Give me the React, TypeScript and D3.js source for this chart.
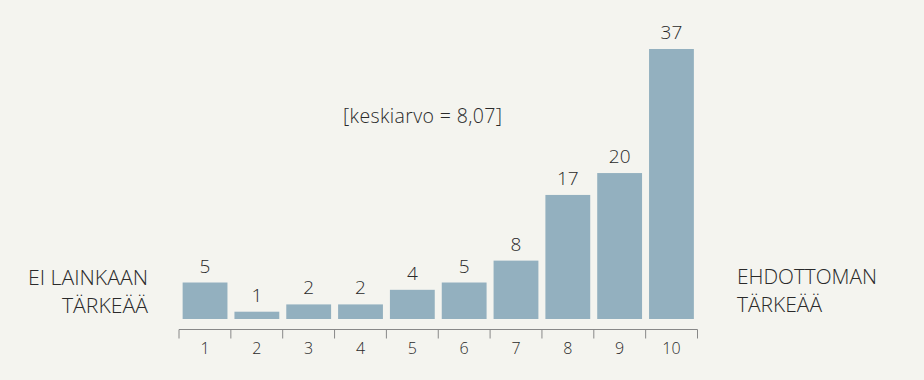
import React from "react";
import * as d3 from "d3";

const categories = ["1", "2", "3", "4", "5", "6", "7", "8", "9", "10"];
const values = [5, 1, 2, 2, 4, 5, 8, 17, 20, 37];
const meanLabel = "[keskiarvo = 8,07]";
const leftLabel = ["EI LAINKAAN", "TÄRKEÄÄ"];
const rightLabel = ["EHDOTTOMAN", "TÄRKEÄÄ"];

const W = 924;
const H = 380;
const FONT = "'Open Sans', 'Noto Sans', sans-serif";
const TEXT = "#2a2a2a";

export default function App() {
  const x = d3.scaleBand<string>().domain(categories).range([179, 697.5]).paddingInner(0.135).paddingOuter(0.07);
  const y = d3.scaleLinear().domain([0, 37]).range([319, 49]);
  const axisY = 329.5;
  const start = 179;
  const tickXs = d3.range(categories.length + 1).map((i) => start + i * ((697.5 - 179) / categories.length));

  return (
    <svg width={W} height={H} style={{ position: "absolute", left: 0, top: 0 }} fontFamily={FONT} fontWeight={300}>
      <rect x={0} y={0} width={W} height={H} fill="#f4f4ef" />
      {categories.map((c, i) => (
        <g key={c}>
          <rect x={x(c)} y={y(values[i])} width={x.bandwidth()} height={y(0) - y(values[i])} fill="#93b0bf" />
          <text x={(x(c) as number) + x.bandwidth() / 2} y={y(values[i]) - 10} textAnchor="middle" fontSize={19} fill={TEXT}>
            {values[i]}
          </text>
          <text x={(x(c) as number) + x.bandwidth() / 2} y={354} textAnchor="middle" fontSize={16} fill={TEXT}>
            {c}
          </text>
        </g>
      ))}
      <line x1={start} x2={697.5} y1={axisY} y2={axisY} stroke="#888" strokeWidth={1} />
      {tickXs.map((tx, i) => (
        <line key={i} x1={tx} x2={tx} y1={axisY} y2={axisY + 9} stroke="#888" strokeWidth={1} />
      ))}
      <text x={343} y={123} fontSize={19.5} fill={TEXT} textLength={159} lengthAdjust="spacing">{meanLabel}</text>
      <g fontSize={20.5} fill={TEXT}>
        <text x={28} y={285} textLength={120} lengthAdjust="spacingAndGlyphs">{leftLabel[0]}</text>
        <text x={62} y={313} textLength={86} lengthAdjust="spacingAndGlyphs">{leftLabel[1]}</text>
        <text x={737} y={284} textLength={140} lengthAdjust="spacingAndGlyphs">{rightLabel[0]}</text>
        <text x={737} y={312} textLength={85} lengthAdjust="spacingAndGlyphs">{rightLabel[1]}</text>
      </g>
    </svg>
  );
}
